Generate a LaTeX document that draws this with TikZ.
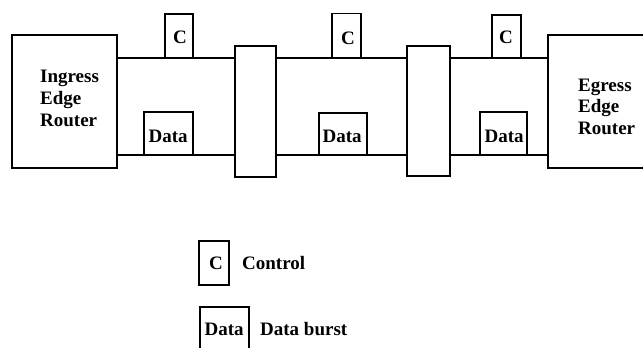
\documentclass[tikz,border=0pt]{standalone}
\usepackage{fontspec}
\setmainfont{Liberation Serif}
\begin{document}
\begin{tikzpicture}[x=1pt,y=-1pt,
  box/.style={draw,line width=1.5pt,inner sep=0pt,outer sep=0pt,fill=white},
  wire/.style={line width=1.5pt},
  lbl/.style={inner sep=0pt,anchor=base west,font=\fontsize{19}{22}\selectfont\bfseries}]
\useasboundingbox (0,0) rectangle (643,348);
\clip (0,0) rectangle (643,348);

% edge routers and core switches
\node[box,minimum width=105pt,minimum height=133pt] (ing) at (64.5,101.5) {};
\node[box,minimum width=110pt,minimum height=133pt] (egr) at (603,101.5) {};
\node[box,minimum width=41pt,minimum height=131pt] (sw1) at (255.5,111.5) {};
\node[box,minimum width=43pt,minimum height=130pt] (sw2) at (428.5,111) {};

% control and data channels
\draw[wire] (ing.east |- 0,58) -- (sw1.west |- 0,58);
\draw[wire] (sw1.east |- 0,58) -- (sw2.west |- 0,58);
\draw[wire] (sw2.east |- 0,58) -- (egr.west |- 0,58);
\draw[wire] (ing.east |- 0,155) -- (sw1.west |- 0,155);
\draw[wire] (sw1.east |- 0,155) -- (sw2.west |- 0,155);
\draw[wire] (sw2.east |- 0,155) -- (egr.west |- 0,155);

% control packets on the upper channel
\node[box,minimum width=28pt,minimum height=44pt] (c1) at (179,36) {};
\node[box,minimum width=29pt,minimum height=44pt] (c2) at (346.5,35.5) {};
\node[box,minimum width=29pt,minimum height=43pt] (c3) at (506.5,36.5) {};

% data bursts on the lower channel
\node[box,minimum width=49pt,minimum height=43pt] (d1) at (168.5,133.5) {};
\node[box,minimum width=48pt,minimum height=42pt] (d2) at (343,134) {};
\node[box,minimum width=47pt,minimum height=43pt] (d3) at (503.5,133.5) {};

% legend
\node[box,minimum width=30pt,minimum height=44pt] (lc) at (214,263) {};
\node[box,minimum width=49pt,minimum height=60pt] (ld) at (224.5,337) {};

% labels
\node[lbl] at (40,82) {Ingress};
\node[lbl] at (40,104) {Edge};
\node[lbl] at (40,126) {Router};
\node[lbl] at (578,91) {Egress};
\node[lbl] at (578,112.5) {Edge};
\node[lbl] at (578,134) {Router};
\node[lbl] at (173,43) {C};
\node[lbl] at (341,44) {C};
\node[lbl] at (499,43) {C};
\node[lbl] at (148.5,142) {Data};
\node[lbl] at (322.5,142) {Data};
\node[lbl] at (484.5,142) {Data};
\node[lbl] at (209,269) {C};
\node[lbl] at (242,269) {Control};
\node[lbl] at (204.5,335) {Data};
\node[lbl] at (260,335) {Data burst};
\end{tikzpicture}
\end{document}
